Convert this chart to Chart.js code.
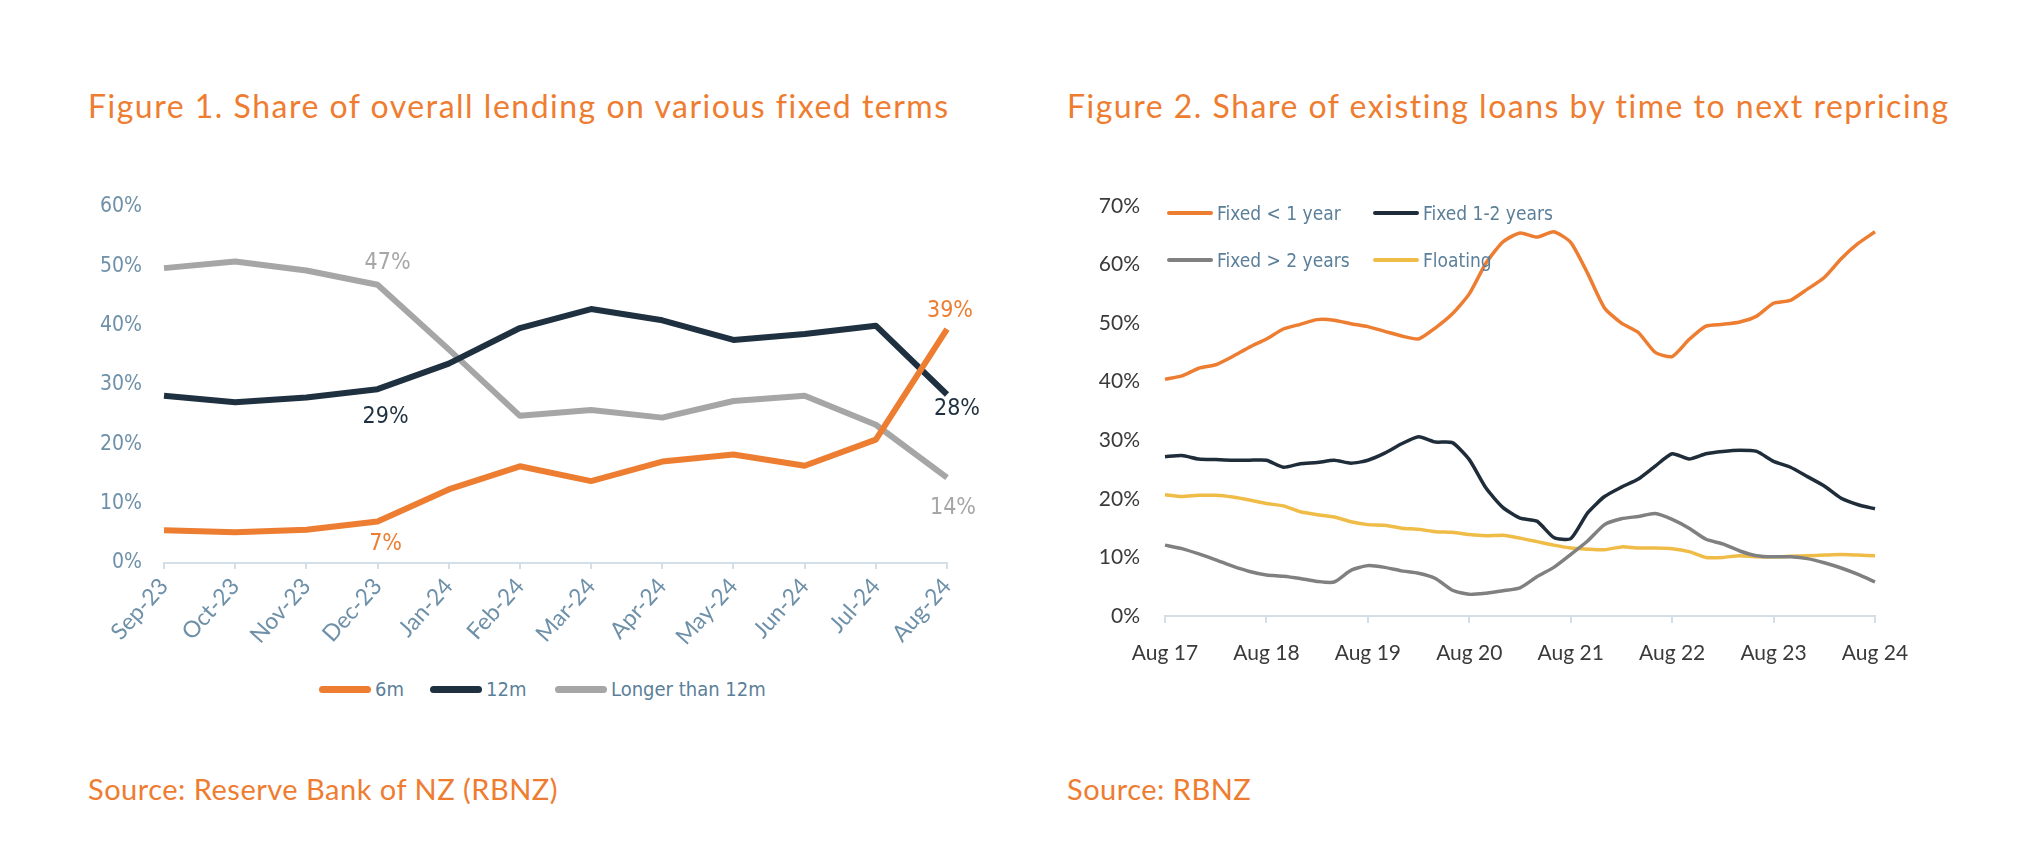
<!DOCTYPE html>
<html lang="en">
<head>
<meta charset="UTF-8">
<title>Fixed term lending</title>
<script src="https://cdn.jsdelivr.net/npm/chart.js@4.4.1/dist/chart.umd.min.js"></script>
<style>
  body { margin: 0; width: 2024px; height: 853px; background: #fff; position: relative; overflow: hidden; }
  .title, .source { position: absolute; font-family: Lato, "Open Sans", sans-serif; color: #EE7D31; white-space: nowrap; }
  .title { font-size: 32px; line-height: 36px; letter-spacing: 1.5px; }
  .source { font-size: 29px; line-height: 34px; letter-spacing: 0.5px; }
  canvas { position: absolute; top: 0; }
  .legend { position: absolute; font-family: "Liberation Sans Narrow", "DejaVu Sans Condensed", sans-serif; color: #5B7F99; font-size: 19px; }
  .legend .item { display: flex; align-items: center; position: absolute; white-space: nowrap; }
  .legend .mark { display: inline-block; border-radius: 4px; margin-right: 4px; }
</style>
</head>
<body>

<div class="title" style="left:88px; top:88px;">Figure 1. Share of overall lending on various fixed terms</div>
<div class="title" style="left:1067px; top:88px;">Figure 2. Share of existing loans by time to next repricing</div>
<div class="source" style="left:88px; top:772px;">Source: Reserve Bank of NZ (RBNZ)</div>
<div class="source" style="left:1067px; top:772px;">Source: RBNZ</div>

<canvas id="chart1" width="1012" height="660" style="left:0px;"></canvas>
<canvas id="chart2" width="1012" height="690" style="left:1012px;"></canvas>

<div class="legend" id="legend1" style="left:319px; top:677px; height:30px; width:600px;"></div>
<div class="legend" id="legend2" style="left:1167px; top:202px;"></div>

<script>
  // Figure 1 - monthly share of new lending by fixed term (%)
  const months1 = ['Sep-23', 'Oct-23', 'Nov-23', 'Dec-23', 'Jan-24', 'Feb-24',
                   'Mar-24', 'Apr-24', 'May-24', 'Jun-24', 'Jul-24', 'Aug-24'];
  const sixMonth = [5.5, 5.2, 5.6, 7.0, 12.4, 16.3, 13.8, 17.1, 18.3, 16.4, 20.8, 39.4];
  const twelveMonth = [28.2, 27.1, 27.9, 29.3, 33.6, 39.6, 42.8, 40.9, 37.6, 38.6, 40.0, 28.4];
  const longerThan12 = [49.7, 50.8, 49.3, 46.9, 36.0, 24.8, 25.8, 24.5, 27.3, 28.2, 23.3, 14.4];
  const names1 = ['6m', '12m', 'Longer than 12m'];
  const colors1 = ['#ED7D31', '#1F3140', '#A6A6A6'];
  const ticks1 = [0, 10, 20, 30, 40, 50, 60];

  // Figure 2 - share of existing loans by time to next repricing (%), every 2 months
  const months2 = [
    'Aug 17', 'Oct 17', 'Dec 17', 'Feb 18', 'Apr 18', 'Jun 18',
    'Aug 18', 'Oct 18', 'Dec 18', 'Feb 19', 'Apr 19', 'Jun 19',
    'Aug 19', 'Oct 19', 'Dec 19', 'Feb 20', 'Apr 20', 'Jun 20',
    'Aug 20', 'Oct 20', 'Dec 20', 'Feb 21', 'Apr 21', 'Jun 21',
    'Aug 21', 'Oct 21', 'Dec 21', 'Feb 22', 'Apr 22', 'Jun 22',
    'Aug 22', 'Oct 22', 'Dec 22', 'Feb 23', 'Apr 23', 'Jun 23',
    'Aug 23', 'Oct 23', 'Dec 23', 'Feb 24', 'Apr 24', 'Jun 24',
    'Aug 24'];
  const fixedUnder1 = [40.4, 41.0, 42.3, 42.9, 44.3, 45.9, 47.3, 49.0, 49.8, 50.6,
                       50.5, 49.9, 49.4, 48.6, 47.8, 47.3, 49.2, 51.6, 55.0, 60.3,
                       63.9, 65.4, 64.7, 65.6, 63.8, 58.5, 52.6, 50.0, 48.4, 45.0,
                       44.3, 47.2, 49.5, 49.8, 50.2, 51.2, 53.4, 53.9, 55.8, 57.8,
                       61.0, 63.6, 65.6];
  const fixed1to2 = [27.2, 27.4, 26.8, 26.7, 26.6, 26.6, 26.6, 25.4, 26.0, 26.2,
                     26.6, 26.1, 26.6, 27.8, 29.4, 30.6, 29.7, 29.6, 26.7, 21.8,
                     18.5, 16.7, 16.2, 13.4, 13.2, 17.6, 20.4, 22.0, 23.4, 25.6,
                     27.7, 26.8, 27.7, 28.1, 28.3, 28.1, 26.4, 25.4, 23.8, 22.2,
                     20.1, 19.0, 18.3];
  const fixedOver2 = [12.1, 11.5, 10.6, 9.6, 8.5, 7.6, 7.0, 6.8, 6.4, 5.9,
                      5.8, 7.8, 8.6, 8.3, 7.7, 7.3, 6.4, 4.4, 3.7, 3.9,
                      4.3, 4.8, 6.7, 8.3, 10.5, 12.8, 15.6, 16.6, 17.0, 17.5,
                      16.5, 15.0, 13.1, 12.3, 11.1, 10.3, 10.1, 10.1, 9.8, 9.1,
                      8.2, 7.1, 5.8];
  const floating = [20.7, 20.4, 20.6, 20.6, 20.3, 19.8, 19.2, 18.8, 17.8, 17.3,
                    16.9, 16.1, 15.6, 15.5, 15.0, 14.8, 14.4, 14.3, 13.9, 13.7,
                    13.8, 13.3, 12.7, 12.1, 11.6, 11.4, 11.3, 11.8, 11.6, 11.6,
                    11.5, 11.0, 10.0, 10.0, 10.3, 10.1, 10.1, 10.2, 10.3, 10.4,
                    10.5, 10.4, 10.3];
  const names2 = ['Fixed < 1 year', 'Fixed 1-2 years', 'Fixed > 2 years', 'Floating'];
  const colors2 = ['#ED7D31', '#1F2D3A', '#808080', '#F0BC48'];

  const narrow = '"Liberation Sans Narrow", "DejaVu Sans Condensed", sans-serif';
  const geo = 'Lato, "Open Sans", sans-serif';

  // value labels next to selected points (dataset, index, offset from point)
  const pointLabels = [
    { ds: 2, i: 3, dx: 10, dy: -22 },
    { ds: 1, i: 3, dx: 8, dy: 28 },
    { ds: 0, i: 3, dx: 8, dy: 23 },
    { ds: 0, i: 11, dx: 3, dy: -18 },
    { ds: 1, i: 11, dx: 10, dy: 15 },
    { ds: 2, i: 11, dx: 6, dy: 30 }
  ];

  const labelPlugin = {
    id: 'pointLabels',
    afterDatasetsDraw(chart) {
      const ctx = chart.ctx;
      ctx.save();
      ctx.font = '23px ' + narrow;
      ctx.textAlign = 'center';
      ctx.textBaseline = 'middle';
      pointLabels.forEach(l => {
        const pt = chart.getDatasetMeta(l.ds).data[l.i];
        const v = chart.data.datasets[l.ds].data[l.i];
        ctx.fillStyle = chart.data.datasets[l.ds].borderColor;
        ctx.fillText(Math.round(v) + '%', pt.x + l.dx, pt.y + l.dy);
      });
      ctx.restore();
    }
  };

  const series1 = [sixMonth, twelveMonth, longerThan12];
  new Chart(document.getElementById('chart1'), {
    type: 'line',
    data: {
      labels: months1,
      datasets: series1.map((d, k) => ({
        label: names1[k],
        data: d,
        borderColor: colors1[k],
        backgroundColor: colors1[k],
        borderWidth: 6,
        pointRadius: 0,
        tension: 0,
        borderJoinStyle: 'round'
      }))
    },
    options: {
      responsive: false,
      animation: false,
      layout: { padding: { left: 64, top: 207, right: 65, bottom: 0 } },
      plugins: { legend: { display: false }, tooltip: { enabled: false } },
      scales: {
        x: {
          grid: { display: true, drawOnChartArea: false, drawTicks: true, tickLength: 6, color: '#D3DEE6', lineWidth: 2 },
          border: { display: true, color: '#D3DEE6', width: 2 },
          ticks: { color: '#6E90A8', font: { family: geo, size: 23 }, minRotation: 48, maxRotation: 48, padding: 4, autoSkip: false },
          afterFit(scale) { scale.height = 97; }
        },
        y: {
          min: 0, max: 60,
          afterBuildTicks(scale) { scale.ticks = ticks1.map(v => ({ value: v })); },
          grid: { display: false, drawTicks: false },
          border: { display: false },
          ticks: { color: '#6E90A8', font: { family: narrow, size: 21 }, padding: 22, callback: v => v + '%' },
          afterFit(scale) { scale.width = 100; }
        }
      }
    },
    plugins: [labelPlugin]
  });

  const series2 = [fixedUnder1, fixed1to2, fixedOver2, floating];
  new Chart(document.getElementById('chart2'), {
    type: 'line',
    data: {
      labels: months2,
      datasets: series2.map((d, k) => ({
        label: names2[k],
        data: d,
        borderColor: colors2[k],
        backgroundColor: colors2[k],
        borderWidth: 3.5,
        pointRadius: 0,
        tension: 0.2,
        borderJoinStyle: 'round'
      }))
    },
    options: {
      responsive: false,
      animation: false,
      layout: { padding: { left: 53, top: 206, right: 149, bottom: 0 } },
      plugins: { legend: { display: false }, tooltip: { enabled: false } },
      scales: {
        x: {
          grid: {
            display: true, drawOnChartArea: false, drawTicks: true, tickLength: 7, lineWidth: 2,
            color: c => (c.index % 6 === 0 ? '#D3DEE6' : 'rgba(0,0,0,0)')
          },
          border: { display: true, color: '#D3DEE6', width: 2 },
          ticks: {
            color: '#3A3A3A', font: { family: geo, size: 21 }, maxRotation: 0, minRotation: 0,
            autoSkip: false, padding: 18,
            callback: function (v, i) { return i % 6 === 0 ? this.getLabelForValue(v) : ''; }
          },
          afterFit(scale) { scale.height = 74; }
        },
        y: {
          min: 0, max: 70,
          ticks: { stepSize: 10, color: '#3A3A3A', font: { family: geo, size: 21 }, padding: 25, callback: v => v + '%' },
          grid: { display: false, drawTicks: false },
          border: { display: false },
          afterFit(scale) { scale.width = 100; }
        }
      }
    }
  });

  // legends built from the series names and colours
  function legendItem(name, color, left, top, w, h) {
    const el = document.createElement('div');
    el.className = 'item';
    el.style.left = left + 'px';
    el.style.top = top + 'px';
    el.innerHTML = '<span class="mark" style="width:' + w + 'px;height:' + h + 'px;background:' + color + '"></span>' + name;
    return el;
  }

  const leg1 = document.getElementById('legend1');
  const leg1Left = [0, 111, 236];
  names1.forEach((n, k) => {
    const it = legendItem(n, colors1[k], leg1Left[k], 0, 52, 7);
    it.style.fontSize = '20px';
    leg1.appendChild(it);
  });

  const leg2 = document.getElementById('legend2');
  const leg2Pos = [[0, 0], [206, 0], [0, 47], [206, 47]];
  names2.forEach((n, k) => {
    leg2.appendChild(legendItem(n, colors2[k], leg2Pos[k][0], leg2Pos[k][1], 46, 4));
  });
</script>
</body>
</html>
